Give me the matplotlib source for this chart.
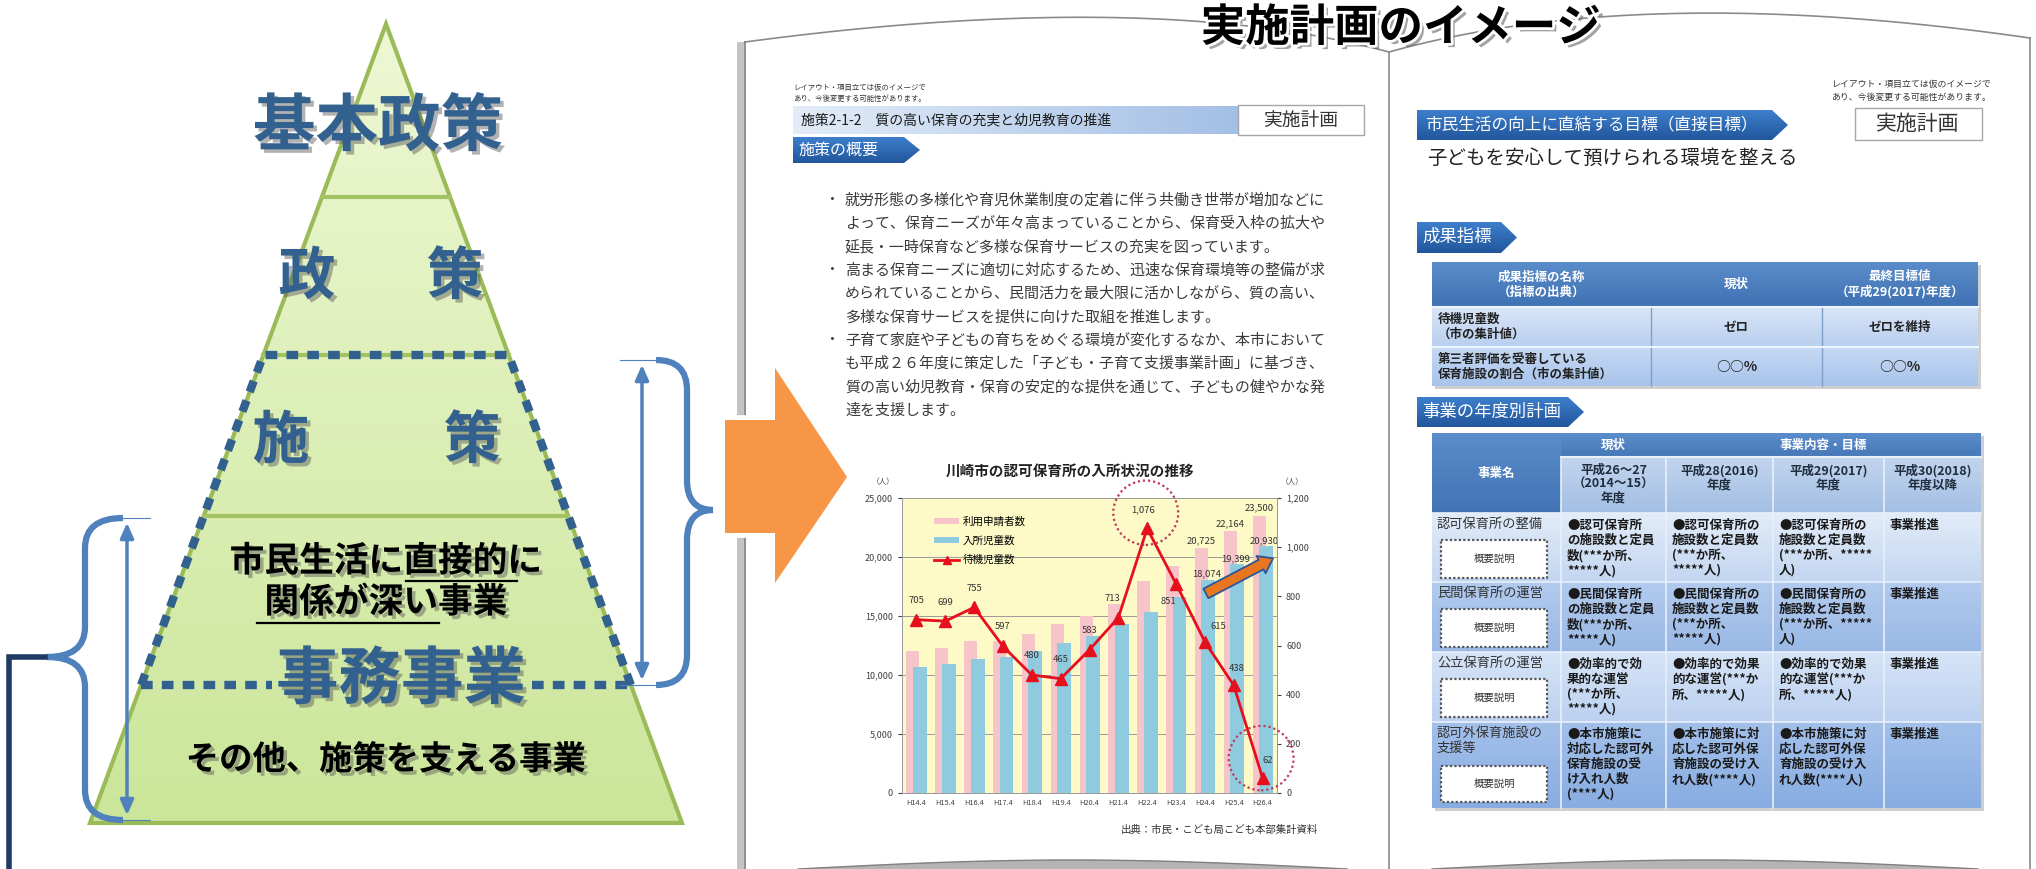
import numpy as np
import matplotlib
matplotlib.use('Agg')
import matplotlib.pyplot as plt
import matplotlib.patheffects as pe
from matplotlib.patches import Polygon, Rectangle, Ellipse, PathPatch, Patch
from matplotlib.path import Path
from matplotlib.lines import Line2D
from matplotlib.colors import to_rgb
from matplotlib.ticker import FuncFormatter, MultipleLocator

plt.rcParams['font.family'] = ['Noto Sans CJK JP', 'DejaVu Sans']

W, H = 2036, 869

# ---- chart data (川崎市の認可保育所の入所状況の推移)
years = ['H14.4', 'H15.4', 'H16.4', 'H17.4', 'H18.4', 'H19.4', 'H20.4',
         'H21.4', 'H22.4', 'H23.4', 'H24.4', 'H25.4', 'H26.4']
applicants = [12000, 12300, 12850, 12900, 13450, 14350, 15000,
              16000, 17950, 19200, 20725, 22164, 23500]
enrolled = [10650, 10950, 11330, 11530, 12000, 12740, 13300,
            14350, 15370, 16600, 18074, 19399, 20930]
waiting = [705, 699, 755, 597, 480, 465, 583, 713, 1076, 851, 615, 438, 62]
labelled_bars = [10, 11, 12]
series_names = ['利用申請者数', '入所児童数', '待機児童数']

# ---- texts
pyramid_levels = ['基本政策', '政', '策', '施', '策']
bullet_lines = [
    '就労形態の多様化や育児休業制度の定着に伴う共働き世帯が増加などに',
    'よって、保育ニーズが年々高まっていることから、保育受入枠の拡大や',
    '延長・一時保育など多様な保育サービスの充実を図っています。',
    '高まる保育ニーズに適切に対応するため、迅速な保育環境等の整備が求',
    'められていることから、民間活力を最大限に活かしながら、質の高い、',
    '多様な保育サービスを提供に向けた取組を推進します。',
    '子育て家庭や子どもの育ちをめぐる環境が変化するなか、本市において',
    'も平成２６年度に策定した「子ども・子育て支援事業計画」に基づき、',
    '質の高い幼児教育・保育の安定的な提供を通じて、子どもの健やかな発',
    '達を支援します。',
]
bullet_starts = [0, 3, 6]
note_text = 'レイアウト・項目立ては仮のイメージで\nあり、今後変更する可能性があります。'

kpi_header = ['成果指標の名称\n（指標の出典）', '現状', '最終目標値\n（平成29(2017)年度）']
kpi_rows = [['待機児童数\n（市の集計値）', 'ゼロ', 'ゼロを維持'],
            ['第三者評価を受審している\n保育施設の割合（市の集計値）', '○○%', '○○%']]

plan_top = ['現状', '事業内容・目標']
plan_years = ['平成26～27\n（2014～15）\n年度', '平成28(2016)\n年度',
              '平成29(2017)\n年度', '平成30(2018)\n年度以降']
plan_names = ['認可保育所の整備', '民間保育所の運営', '公立保育所の運営', '認可外保育施設の\n支援等']
plan_cells = [
    ['●認可保育所\nの施設数と定員\n数(***か所、\n*****人)', '●認可保育所の\n施設数と定員数\n(***か所、\n*****人)',
     '●認可保育所の\n施設数と定員数\n(***か所、*****\n人)', '事業推進'],
    ['●民間保育所\nの施設数と定員\n数(***か所、\n*****人)', '●民間保育所の\n施設数と定員数\n(***か所、\n*****人)',
     '●民間保育所の\n施設数と定員数\n(***か所、*****\n人)', '事業推進'],
    ['●効率的で効\n果的な運営\n(***か所、\n*****人)', '●効率的で効果\n的な運営(***か\n所、*****人)',
     '●効率的で効果\n的な運営(***か\n所、*****人)', '事業推進'],
    ['●本市施策に\n対応した認可外\n保育施設の受\nけ入れ人数\n(****人)', '●本市施策に対\n応した認可外保\n育施設の受け入\nれ人数(****人)',
     '●本市施策に対\n応した認可外保\n育施設の受け入\nれ人数(****人)', '事業推進'],
]

fig = plt.figure(figsize=(W / 100, H / 100), dpi=100)
ax = fig.add_axes([0, 0, 1, 1])
ax.axis('off')


def gradient(verts, c0, c1, z, horiz=False, ec='none', lw=0):
    poly = Polygon(verts, closed=True, fc='none', ec=ec, lw=lw, zorder=z + 0.01)
    ax.add_patch(poly)
    xs, ys = zip(*verts)
    t = np.linspace(0, 1, 100)[:, None]
    cols = (1 - t) * np.array(to_rgb(c0)) + t * np.array(to_rgb(c1))
    img = cols[None, :, :] if horiz else cols[:, None, :]
    im = ax.imshow(img, extent=(min(xs), max(xs), max(ys), min(ys)), aspect='auto',
                   origin='upper', zorder=z, interpolation='bilinear')
    im.set_clip_path(poly)
    return poly


def box(x0, y0, x1, y1):
    return [(x0, y0), (x1, y0), (x1, y1), (x0, y1)]


def tag(x0, y0, x1, y1, tip=16):
    return [(x0, y0), (x1 - tip, y0), (x1, (y0 + y1) / 2), (x1 - tip, y1), (x0, y1)]


# ================= pyramid =================
apex = (386, 24)
base_y, half = 823, 296


def hw(y):
    return (y - apex[1]) / (base_y - apex[1]) * half


gradient([apex, (apex[0] + half, base_y), (apex[0] - half, base_y)],
         '#eef8d4', '#cbe69a', 2, ec='#9bbb59', lw=3)
for y in [197, 355, 516]:
    ax.plot([apex[0] - hw(y), apex[0] + hw(y)], [y, y], color='#a3c263', lw=3, zorder=3)

blue = '#33618f'
dots = (0, (1.4, 1.1))
yt, yb = 355, 685
ax.plot([apex[0] - hw(yb), apex[0] - hw(yt), apex[0] + hw(yt), apex[0] + hw(yb)],
        [yb, yt, yt, yb], color=blue, lw=6, ls=dots, zorder=4, solid_joinstyle='round')
ax.plot([apex[0] - hw(yb), 272], [yb, yb], color=blue, lw=6, ls=dots, zorder=4)
ax.plot([532, apex[0] + hw(yb)], [yb, yb], color=blue, lw=6, ls=dots, zorder=4)

shadow = [pe.SimplePatchShadow(offset=(2.5, -2.5), shadow_rgbFace='#555555', alpha=0.45), pe.Normal()]
ax.text(378, 127, pyramid_levels[0], fontsize=45, fontweight='bold', color=blue,
        ha='center', va='center', zorder=6, path_effects=shadow)
for x, y, s in [(307, 277, pyramid_levels[1]), (455, 277, pyramid_levels[2]),
                (281, 441, pyramid_levels[3]), (472, 441, pyramid_levels[4])]:
    ax.text(x, y, s, fontsize=41, fontweight='bold', color=blue, ha='center', va='center',
            zorder=6, path_effects=shadow)
ax.text(401, 680, '事務事業', fontsize=45, fontweight='bold', color=blue, ha='center',
        va='center', zorder=6, path_effects=shadow)
ax.text(386, 561, '市民生活に直接的に', fontsize=25, fontweight='bold', color='black',
        ha='center', va='center', zorder=6, path_effects=shadow)
ax.text(386, 602, '関係が深い事業', fontsize=25, fontweight='bold', color='black',
        ha='center', va='center', zorder=6, path_effects=shadow)
ax.plot([406, 517], [581, 581], color='black', lw=1.6, zorder=6)
ax.plot([257, 439], [623, 623], color='black', lw=1.6, zorder=6)
ax.text(386, 760, 'その他、施策を支える事業', fontsize=24, fontweight='bold', color='black',
        ha='center', va='center', zorder=6, path_effects=shadow)

# braces and arrows
bc = '#4f81bd'


def brace(xt, xs, xp, y0, ym, y1, r=30):
    verts = [(xt, y0), (xs, y0), (xs, y0 + r), (xs, ym - r), (xs, ym), (xp, ym),
             (xs, ym), (xs, ym + r), (xs, y1 - r), (xs, y1), (xt, y1)]
    codes = [Path.MOVETO, Path.CURVE3, Path.CURVE3, Path.LINETO, Path.CURVE3, Path.CURVE3,
             Path.CURVE3, Path.CURVE3, Path.LINETO, Path.CURVE3, Path.CURVE3]
    ax.add_patch(PathPatch(Path(verts, codes), fc='none', ec=bc, lw=4.5, zorder=5))


brace(656, 687, 713, 360, 510, 685)
brace(123, 85, 47, 518, 657, 820)
for x, y0, y1, t0, t1 in [(642, 360, 685, 620, 660), (127, 518, 820, 113, 150)]:
    ax.annotate('', xy=(x, y0 + 2), xytext=(x, y1 - 2),
                arrowprops=dict(arrowstyle='<|-|>,head_length=0.9,head_width=0.4', color=bc, lw=2.5),
                zorder=5)
    ax.plot([t0, t1], [y0, y0], color=bc, lw=0.8, zorder=5)
    ax.plot([t0, t1], [y1, y1], color=bc, lw=0.8, zorder=5)
ax.plot([45, 9, 9], [657, 657, H + 5], color='#1f3b63', lw=4, zorder=5, solid_joinstyle='miter')

# ================= pages =================
pc = '#8a8a8a'
t = np.linspace(0, 1, 80)


def qcurve(p0, c, p2):
    x = (1 - t) ** 2 * p0[0] + 2 * (1 - t) * t * c[0] + t ** 2 * p2[0]
    y = (1 - t) ** 2 * p0[1] + 2 * (1 - t) * t * c[1] + t ** 2 * p2[1]
    return x, y


xl, yl = qcurve((745, 42), (1150, -12), (1389, 52))
xr, yr = qcurve((1389, 52), (1640, -18), (2030, 38))
ax.plot(xl, yl, color=pc, lw=1.2, zorder=1)
ax.plot(xr, yr, color=pc, lw=1.2, zorder=1)
ax.plot([745, 745], [42, H], color='#7a7a7a', lw=1.2, zorder=1)
ax.plot([740, 740], [45, H], color='#c4c4c4', lw=5, zorder=0.9)
ax.plot([1389, 1389], [52, H], color=pc, lw=1.2, zorder=1)
ax.plot([2030, 2030], [38, H], color=pc, lw=1.2, zorder=1)
for a, b in [(798, 1347), (1432, 1978)]:
    xs = np.linspace(a, b, 100)
    ys = H - 9 * np.sin(np.pi * (xs - a) / (b - a))
    ax.fill_between(xs, ys, H, color='#b4b4b4', zorder=1)
    ax.plot(xs, ys, color='#808080', lw=1, zorder=1)

ax.text(1401, 28, '実施計画のイメージ', fontsize=32, fontweight='bold', color='black',
        ha='center', va='center', zorder=8,
        path_effects=[pe.SimplePatchShadow(offset=(3, -3), shadow_rgbFace='#666666', alpha=0.6),
                      pe.Stroke(linewidth=4, foreground='white'), pe.Normal()])

# orange arrow
arrow = [(725, 420), (775, 420), (775, 368), (847, 477), (775, 583), (775, 533), (725, 533)]
ax.add_patch(Polygon(arrow, closed=True, fc='#f79646', ec='white', lw=7, zorder=6, joinstyle='miter',
                     path_effects=[pe.SimplePatchShadow(offset=(2, -2), alpha=0.3), pe.Normal()]))
ax.add_patch(Polygon(arrow, closed=True, fc='#f79646', ec='none', zorder=6.1))

# ---- left page
ax.text(793, 93, note_text, fontsize=5.3, color='#333333', ha='left', va='center', linespacing=1.5)
gradient(box(793, 106, 1283, 134), '#e3ecf8', '#9dbbe3', 3, horiz=True)
ax.text(801, 120, '施策2-1-2　質の高い保育の充実と幼児教育の推進', fontsize=10, color='#1a1a1a',
        ha='left', va='center', zorder=4)
ax.add_patch(Rectangle((1238, 105), 126, 30, fc='white', ec='#a6a6a6', lw=1, zorder=4))
ax.text(1301, 120, '実施計画', fontsize=13.5, color='#333333', ha='center', va='center', zorder=5)
gradient(tag(793, 137, 920, 163), '#3d7fcc', '#22569c', 3)
ax.text(798, 150, '施策の概要', fontsize=11.5, color='white', ha='left', va='center', zorder=4)
for i, line in enumerate(bullet_lines):
    y = 200 + 23.4 * i
    if i in bullet_starts:
        ax.text(832, y, '・', fontsize=10.8, color='#3a3a3a', ha='center', va='center')
    ax.text(845, y, line, fontsize=10.8, color='#3a3a3a', ha='left', va='center')

ax.text(1070, 471, '川崎市の認可保育所の入所状況の推移', fontsize=10.5, fontweight='bold',
        color='#222222', ha='center', va='center')
ax.text(883, 482, '（人）', fontsize=5.5, color='#444444', ha='center', va='center')
ax.text(1292, 482, '（人）', fontsize=5.5, color='#444444', ha='center', va='center')
ax.text(1318, 830, '出典：市民・こども局こども本部集計資料', fontsize=7.5, color='#333333',
        ha='right', va='center')

# ---- right page
ax.text(1831, 91, note_text, fontsize=6.4, color='#333333', ha='left', va='center', linespacing=1.5)
ax.add_patch(Rectangle((1855, 108), 127, 32, fc='white', ec='#a6a6a6', lw=1, zorder=4))
ax.text(1918, 124, '実施計画', fontsize=15, color='#333333', ha='center', va='center', zorder=5)
gradient(tag(1417, 110, 1788, 140), '#3d7fcc', '#22569c', 3)
ax.text(1425, 125, '市民生活の向上に直結する目標（直接目標）', fontsize=12, color='white',
        ha='left', va='center', zorder=4)
ax.text(1427, 158, '子どもを安心して預けられる環境を整える', fontsize=14, color='#222222',
        ha='left', va='center')
gradient(tag(1417, 222, 1517, 253), '#3d7fcc', '#22569c', 3)
ax.text(1422, 237, '成果指標', fontsize=12.5, color='white', ha='left', va='center', zorder=4)
gradient(tag(1417, 397, 1584, 427), '#3d7fcc', '#22569c', 3)
ax.text(1422, 412, '事業の年度別計画', fontsize=12.5, color='white', ha='left', va='center', zorder=4)

# table 1
c1 = [1432, 1651, 1822, 1978]
r1 = [262, 307, 347, 386]
ax.add_patch(Rectangle((c1[0] + 3, r1[0] + 3), c1[-1] - c1[0], r1[-1] - r1[0], fc='#cfcfcf', zorder=2))
gradient(box(c1[0], r1[0], c1[-1], r1[1]), '#5b8ccb', '#3f72b3', 3)
row_cols1 = [('#d8e5f7', '#b9cfef'), ('#c6d9f3', '#a8c4ec')]
for j in range(2):
    gradient(box(c1[0], r1[j + 1], c1[-1], r1[j + 2]), *row_cols1[j], 3)
for k in range(3):
    cx = (c1[k] + c1[k + 1]) / 2
    ax.text(cx, (r1[0] + r1[1]) / 2, kpi_header[k], fontsize=9, fontweight='bold', color='white',
            ha='center', va='center', multialignment='center', zorder=5, linespacing=1.2)
    for j in range(2):
        cy = (r1[j + 1] + r1[j + 2]) / 2
        if k == 0:
            ax.text(c1[0] + 6, cy, kpi_rows[j][k], fontsize=9, fontweight='bold', color='#222222',
                    ha='left', va='center', zorder=5, linespacing=1.2)
        else:
            ax.text(cx, cy, kpi_rows[j][k], fontsize=10 if '%' in kpi_rows[j][k] else 9,
                    fontweight='bold', color='#222222', ha='center', va='center', zorder=5)
for x in c1[1:-1]:
    ax.plot([x, x], [r1[1], r1[-1]], color='#7f9fc9', lw=1, zorder=4)
for y in r1[1:-1]:
    ax.plot([c1[0], c1[-1]], [y, y], color='#eef4fb', lw=1.5, zorder=4)

# table 2
c2 = [1432, 1561, 1666, 1773, 1884, 1981]
r2 = [433, 457, 513, 582, 652, 722, 808]
ax.add_patch(Rectangle((c2[0] + 3, r2[0] + 3), c2[-1] - c2[0], r2[-1] - r2[0], fc='#cfcfcf', zorder=2))
gradient(box(c2[0], r2[0], c2[-1], r2[1]), '#5b8ccb', '#4678b8', 3)
gradient(box(c2[0], r2[0], c2[1], r2[2]), '#5b8ccb', '#4273b4', 3)
for k in range(1, 5):
    gradient(box(c2[k], r2[1], c2[k + 1], r2[2]), '#c2d5ee', '#a3bfe4', 3)
ax.text((c2[0] + c2[1]) / 2, 473, '事業名', fontsize=9, fontweight='bold', color='white',
        ha='center', va='center', zorder=5)
ax.text((c2[1] + c2[2]) / 2, 445, plan_top[0], fontsize=9, fontweight='bold', color='white',
        ha='center', va='center', zorder=5)
ax.text((c2[2] + c2[5]) / 2, 445, plan_top[1], fontsize=9, fontweight='bold', color='white',
        ha='center', va='center', zorder=5)
for k in range(4):
    ax.text((c2[k + 1] + c2[k + 2]) / 2, 464, plan_years[k], fontsize=9, fontweight='bold',
            color='#1f2d3d', ha='center', va='top', multialignment='center', zorder=5, linespacing=1.1)
row_cols2 = [('#e2ecf9', '#c3d6f1'), ('#b2caee', '#9ab9e6'), ('#d6e4f7', '#bcd1f0'), ('#a3c0ea', '#88ade2')]
for j in range(4):
    top, bot = r2[j + 2], r2[j + 3]
    gradient(box(c2[0], top, c2[-1], bot), *row_cols2[j], 3)
    ax.text(c2[0] + 5, top + 5, plan_names[j], fontsize=9.5, color='#333333',
            ha='left', va='top', zorder=5, linespacing=1.15)
    bx0, by0, bh = (1441, top + 27, 38) if j < 3 else (1441, top + 44, 36)
    ax.add_patch(Rectangle((bx0, by0), 106, bh, fc='white', ec='#555555', lw=1.6,
                           ls=(0, (1, 1)), zorder=5))
    ax.text(bx0 + 53, by0 + bh / 2, '概要説明', fontsize=7.5, color='#333333', ha='center', va='center', zorder=6)
    for k in range(4):
        ax.text(c2[k + 1] + 6, top + 6, plan_cells[j][k], fontsize=9, fontweight='bold',
                color='#1a1a1a', ha='left', va='top', zorder=5, linespacing=1.2)
for x in c2[1:-1]:
    ax.plot([x, x], [r2[1], r2[-1]], color='#e8f0fa', lw=1.2, zorder=4)
for y in r2[2:-1]:
    ax.plot([c2[0], c2[-1]], [y, y], color='#e8f0fa', lw=1.2, zorder=4)
ax.plot([c2[1], c2[-1]], [r2[1], r2[1]], color='#e8f0fa', lw=1.5, zorder=4)

ax.set_xlim(0, W)
ax.set_ylim(H, 0)

# ================= embedded chart =================
cax = fig.add_axes([902 / W, 1 - 793 / H, 375 / W, 295 / H])
cax.set_facecolor('#fdfac8')
x = np.arange(len(years))
cax.bar(x - 0.12, applicants, 0.45, color='#f7c5c9', zorder=2)
cax.bar(x + 0.12, enrolled, 0.48, color='#8ecbdf', zorder=3)
cax.set_xlim(-0.5, len(years) - 0.5)
cax.set_ylim(0, 25000)
cax.yaxis.set_major_locator(MultipleLocator(5000))
cax.yaxis.set_major_formatter(FuncFormatter(lambda v, p: f'{int(v):,}'))
cax.grid(axis='y', color='#9a9a9a', lw=0.7, zorder=1)
cax.set_axisbelow(True)
cax.set_xticks(x)
cax.set_xticklabels(years, fontsize=5.3, color='#444444')
cax.tick_params(axis='x', length=0, pad=4)
cax.tick_params(axis='y', labelsize=6.5, colors='#404040', length=3, direction='out')
for s in cax.spines.values():
    s.set_color('#9a9a9a')
    s.set_linewidth(0.7)
for i in labelled_bars:
    cax.annotate(f'{applicants[i]:,}', (i - 0.12, applicants[i]), xytext=(0, 3),
                 textcoords='offset pixels', ha='center', va='bottom', fontsize=6.8, color='#333333', zorder=6)
    cax.annotate(f'{enrolled[i]:,}', (i + 0.12, enrolled[i]), xytext=(-2, 1),
                 textcoords='offset pixels', ha='center', va='bottom', fontsize=6.8, color='#333333', zorder=6)
cax.annotate('', xy=(12.45, 20000), xytext=(9.95, 16800),
             arrowprops=dict(arrowstyle='simple,head_length=0.7,head_width=1.0,tail_width=0.55',
                             fc='#e8761e', ec='#2e5597', lw=1.3, mutation_scale=14), zorder=7)

ax2 = cax.twinx()
ax2.plot(x, waiting, color='#e60f1c', lw=2, marker='^', ms=9, zorder=5)
ax2.set_ylim(0, 1200)
ax2.yaxis.set_major_locator(MultipleLocator(200))
ax2.yaxis.set_major_formatter(FuncFormatter(lambda v, p: f'{int(v):,}'))
ax2.tick_params(axis='y', labelsize=6.5, colors='#404040', length=3, direction='out')
for s in ax2.spines.values():
    s.set_color('#9a9a9a')
    s.set_linewidth(0.7)
wl_off = [(0, 19), (0, 19), (0, 19), (0, 20), (0, 19), (0, 19), (0, 19),
          (-6, 19), (-4, 19), (-8, -18), (13, 15), (3, 17), (5, 17)]
for i, v in enumerate(waiting):
    ax2.annotate(f'{v:,}', (i, v), xytext=wl_off[i], textcoords='offset pixels',
                 ha='center', va='center', fontsize=6.8, color='#333333', zorder=6)
for cx_, cy_ in [(7.95, 1140), (11.95, 142)]:
    ax2.add_patch(Ellipse((cx_, cy_), 2.25, 262, fc='none', ec='#c0395a', lw=1.6,
                          ls=(0, (1, 1.3)), zorder=6, clip_on=False))

handles = [Patch(fc='#f7c5c9'), Patch(fc='#8ecbdf'),
           Line2D([], [], color='#e60f1c', lw=2, marker='^', ms=6)]
ax2.legend(handles, series_names, loc='upper left', bbox_to_anchor=(0.06, 0.97), frameon=False,
           fontsize=7.6, handlelength=2.4, handleheight=0.45, labelspacing=0.85, handletextpad=0.3)

fig.savefig('out.png', dpi=100)
